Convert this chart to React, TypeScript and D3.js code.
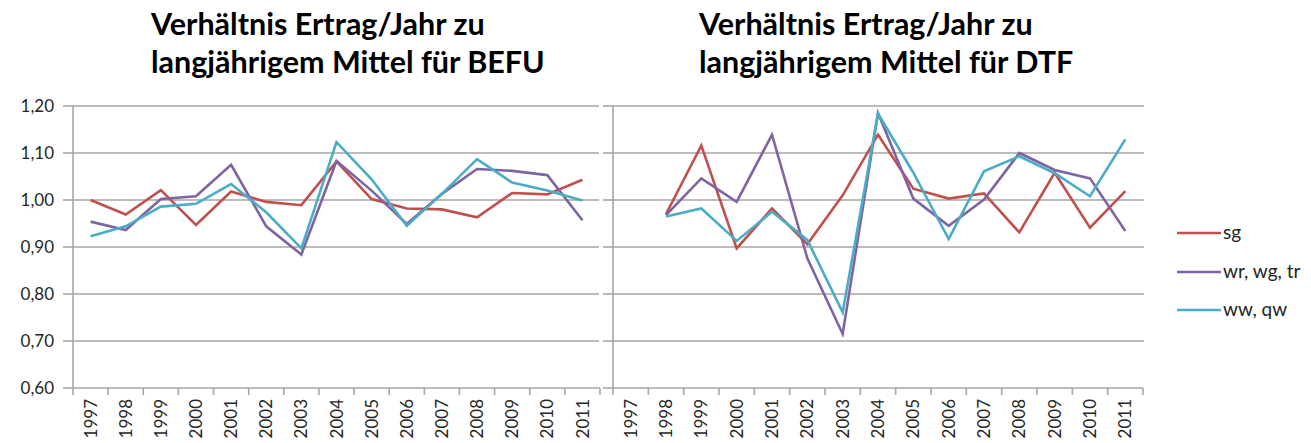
import React from "react";
import * as d3 from "d3";

const years = ["1997","1998","1999","2000","2001","2002","2003","2004","2005","2006","2007","2008","2009","2010","2011"];
const yTicks = [0.6, 0.7, 0.8, 0.9, 1.0, 1.1, 1.2];
const seriesNames = ["sg", "wr, wg, tr", "ww, qw"];
const seriesColors = ["#C0504D", "#8064A2", "#4BACC6"];

// BEFU (left)
const befuSg = [1.0, 0.969, 1.021, 0.947, 1.018, 0.996, 0.989, 1.082, 1.002, 0.982, 0.98, 0.963, 1.015, 1.012, 1.043];
const befuWr = [0.954, 0.936, 1.002, 1.008, 1.075, 0.944, 0.884, 1.083, 1.02, 0.949, 1.013, 1.066, 1.062, 1.053, 0.957];
const befuWw = [0.923, 0.944, 0.986, 0.992, 1.034, 0.974, 0.897, 1.123, 1.044, 0.945, 1.013, 1.087, 1.037, 1.02, 0.999];

// DTF (right), no value for 1997
const dtfSg = [null, 0.97, 1.116, 0.897, 0.982, 0.906, 1.01, 1.139, 1.024, 1.003, 1.014, 0.931, 1.058, 0.941, 1.019];
const dtfWr = [null, 0.968, 1.046, 0.996, 1.139, 0.876, 0.715, 1.185, 1.003, 0.945, 1.001, 1.1, 1.064, 1.046, 0.934];
const dtfWw = [null, 0.965, 0.982, 0.913, 0.975, 0.915, 0.761, 1.184, 1.058, 0.917, 1.061, 1.093, 1.057, 1.008, 1.129];

const W = 1311, H = 443;
const TOP = 106, BOTTOM = 388;
const GRID = "#A6A6A6";
const FONT = "Lato, 'Open Sans', sans-serif";
const TXT = "#262626";

const y = d3.scaleLinear().domain([0.6, 1.2]).range([BOTTOM, TOP]);
const fmt = (v: number) => v.toFixed(2).replace(".", ",");

type Panel = { x0: number; x1: number; gridEnd: number; title: string[]; tx: number; labels: boolean; data: (number | null)[][] };

const panels: Panel[] = [
  { x0: 73, x1: 600, gridEnd: 599, title: ["Verhältnis Ertrag/Jahr zu", "langjährigem Mittel für BEFU"], tx: 151, labels: true, data: [befuSg, befuWr, befuWw] },
  { x0: 613, x1: 1143, gridEnd: 1144, title: ["Verhältnis Ertrag/Jahr zu", "langjährigem Mittel für DTF"], tx: 699, labels: false, data: [dtfSg, dtfWr, dtfWw] },
];

function PanelView({ p }: { p: Panel }) {
  const x = d3.scaleBand().domain(years).range([p.x0, p.x1]).padding(0);
  const bw = x.bandwidth();
  const cx = (yr: string) => (x(yr) as number) + bw / 2;
  const line = d3
    .line<[string, number | null]>()
    .defined((d) => d[1] != null)
    .x((d) => cx(d[0]))
    .y((d) => y(d[1] as number));
  const boundaries = d3.range(years.length + 1).map((i) => p.x0 + i * bw);
  return (
    <g>
      {p.title.map((t, i) => (
        <text key={i} x={p.tx} y={35 + i * 38} fontFamily={FONT} fontWeight="bold" fontSize={30.5} fill="#000">
          {t}
        </text>
      ))}
      {yTicks.filter((v) => v > 0.6).map((v) => (
        <line key={v} x1={p.x0} x2={p.gridEnd} y1={y(v)} y2={y(v)} stroke={GRID} strokeWidth={1.6} />
      ))}
      {yTicks.map((v) => (
        <line key={"t" + v} x1={p.x0 - 10} x2={p.x0} y1={y(v)} y2={y(v)} stroke={GRID} strokeWidth={1.6} />
      ))}
      {p.labels &&
        yTicks.map((v) => (
          <text key={"l" + v} x={54} y={y(v)} dy="0.35em" textAnchor="end" fontFamily={FONT} fontSize={17} fill={TXT}>
            {fmt(v)}
          </text>
        ))}
      <line x1={p.x0} x2={p.x0} y1={TOP} y2={BOTTOM} stroke={GRID} strokeWidth={1.6} />
      <line x1={p.x0} x2={p.x1} y1={BOTTOM} y2={BOTTOM} stroke={GRID} strokeWidth={1.6} />
      {boundaries.map((bx, i) => (
        <line key={"b" + i} x1={bx} x2={bx} y1={BOTTOM} y2={BOTTOM + 7} stroke={GRID} strokeWidth={1.6} />
      ))}
      {years.map((yr) => (
        <text
          key={yr}
          transform={`translate(${cx(yr)},${BOTTOM + 11}) rotate(-90)`}
          dy="0.36em"
          textAnchor="end"
          fontFamily={FONT}
          fontSize={17}
          fill={TXT}
        >
          {yr}
        </text>
      ))}
      {p.data.map((vals, si) => (
        <path
          key={si}
          d={line(years.map((yr, i) => [yr, vals[i]] as [string, number | null])) || ""}
          fill="none"
          stroke={seriesColors[si]}
          strokeWidth={2.6}
          strokeLinejoin="miter"
        />
      ))}
    </g>
  );
}

export default function App() {
  const legY = [233, 272, 310];
  return (
    <svg width={W} height={H} style={{ position: "absolute", left: 0, top: 0, background: "#fff" }}>
      <rect width={W} height={H} fill="#fff" />
      {panels.map((p, i) => (
        <PanelView key={i} p={p} />
      ))}
      {seriesNames.map((n, i) => (
        <g key={n}>
          <line x1={1177} x2={1221} y1={legY[i]} y2={legY[i]} stroke={seriesColors[i]} strokeWidth={2.6} />
          <text x={1223} y={legY[i]} dy="0.32em" fontFamily={FONT} fontSize={19} fill={TXT}>
            {n}
          </text>
        </g>
      ))}
    </svg>
  );
}
